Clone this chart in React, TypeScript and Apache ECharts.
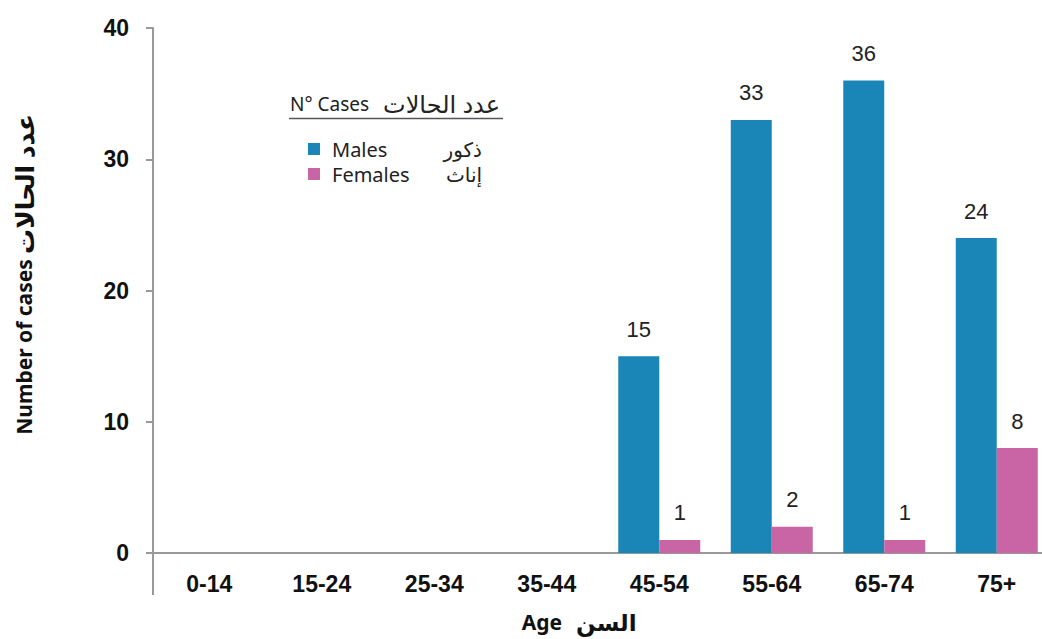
import React, { useEffect, useRef } from "react";
import * as echarts from "echarts";

const categories = ["0-14", "15-24", "25-34", "35-44", "45-54", "55-64", "65-74", "75+"];
const males = [0, 0, 0, 0, 15, 33, 36, 24];
const females = [0, 0, 0, 0, 1, 2, 1, 8];
const yTicks = { min: 0, max: 40, interval: 10 };

const MALE = "#1a86b7";
const FEMALE = "#c965a5";
const AR_FONT = "'Noto Sans', 'Open Sans', 'DejaVu Sans', sans-serif";
const NUM_FONT = "'Liberation Sans', Arial, sans-serif";

export default function App() {
  const ref = useRef<HTMLDivElement>(null);
  useEffect(() => {
    if (!ref.current) return;
    const chart = echarts.init(ref.current, null, { renderer: "svg" });
    const label = {
      show: true,
      position: "top" as const,
      distance: 16,
      fontSize: 22,
      color: "#222",
      fontFamily: NUM_FONT,
      formatter: (p: any) => (p.value === 0 ? "" : String(p.value)),
    };
    chart.setOption({
      animation: false,
      backgroundColor: "#fff",
      grid: {
        left: 153,
        top: 28,
        width: 900,
        height: 525,
        containLabel: false,
        outerBoundsMode: "none",
      },
      legend: {
        orient: "vertical",
        left: 308,
        top: 139,
        padding: 0,
        itemWidth: 12,
        itemHeight: 12,
        itemGap: 5,
        icon: "rect",
        data: ["Males", "Females"],
        formatter: (name: string) =>
          name === "Males" ? "{a|Males}{b|ذكور}" : "{a|Females}{b|إناث}",
        textStyle: {
          fontFamily: AR_FONT,
          fontSize: 20,
          color: "#222",
          padding: [0, 0, 0, 7],
          rich: {
            a: { fontFamily: AR_FONT, fontSize: 20, lineHeight: 19, color: "#222", width: 100 },
            b: {
              fontFamily: AR_FONT,
              fontSize: 20,
              lineHeight: 19,
              color: "#222",
              width: 50,
              align: "right",
            },
          },
        },
      },
      xAxis: {
        type: "category",
        data: categories,
        axisLine: { lineStyle: { color: "#999", width: 2 } },
        axisTick: { show: false },
        axisLabel: {
          margin: 19,
          fontSize: 23,
          fontWeight: "bold",
          color: "#111",
          fontFamily: NUM_FONT,
        },
      },
      yAxis: {
        type: "value",
        min: yTicks.min,
        max: yTicks.max,
        interval: yTicks.interval,
        splitLine: { show: false },
        axisLine: { show: true, lineStyle: { color: "#999", width: 2 } },
        axisTick: { show: true, length: 7, lineStyle: { color: "#999", width: 2 } },
        axisLabel: {
          margin: 24,
          fontSize: 23,
          fontWeight: "bold",
          color: "#111",
          fontFamily: NUM_FONT,
        },
      },
      series: [
        {
          name: "Males",
          type: "bar",
          data: males,
          barWidth: 41,
          barGap: "0%",
          itemStyle: { color: MALE },
          label,
        },
        {
          name: "Females",
          type: "bar",
          data: females,
          barWidth: 41,
          itemStyle: { color: FEMALE },
          label,
        },
      ],
      graphic: [
        {
          type: "line",
          shape: { x1: 153, y1: 553, x2: 153, y2: 595 },
          style: { stroke: "#999", lineWidth: 2 },
        },
        {
          type: "text",
          x: 24,
          y: 347,
          rotation: Math.PI / 2,
          style: {
            text: "Number of cases",
            fontFamily: AR_FONT,
            fontSize: 21,
            fontWeight: "bold",
            fill: "#111",
            align: "center",
            verticalAlign: "middle",
          },
        },
        {
          type: "text",
          x: 24,
          y: 184,
          rotation: Math.PI / 2,
          style: {
            text: "عدد الحالات",
            fontFamily: AR_FONT,
            fontSize: 25,
            fontWeight: "bold",
            fill: "#111",
            align: "center",
            verticalAlign: "middle",
          },
        },
        {
          type: "text",
          x: 290,
          y: 104,
          style: {
            text: "N° Cases",
            fontFamily: AR_FONT,
            fontSize: 19,
            fill: "#222",
            align: "left",
            verticalAlign: "middle",
          },
        },
        {
          type: "text",
          x: 500,
          y: 103,
          style: {
            text: "عدد الحالات",
            fontFamily: AR_FONT,
            fontSize: 24,
            fill: "#222",
            align: "right",
            verticalAlign: "middle",
          },
        },
        {
          type: "line",
          shape: { x1: 289, y1: 118.5, x2: 503, y2: 118.5 },
          style: { stroke: "#555", lineWidth: 1.5 },
        },
        {
          type: "text",
          x: 562,
          y: 622,
          style: {
            text: "Age",
            fontFamily: AR_FONT,
            fontSize: 21,
            fontWeight: "bold",
            fill: "#111",
            align: "right",
            verticalAlign: "middle",
          },
        },
        {
          type: "text",
          x: 576,
          y: 622,
          style: {
            text: "السن",
            fontFamily: AR_FONT,
            fontSize: 23,
            fontWeight: "bold",
            fill: "#111",
            align: "left",
            verticalAlign: "middle",
          },
        },
      ],
    });
    return () => chart.dispose();
  }, []);
  return (
    <div
      ref={ref}
      style={{ position: "fixed", left: 0, top: 0, width: 1042, height: 639 }}
    />
  );
}
